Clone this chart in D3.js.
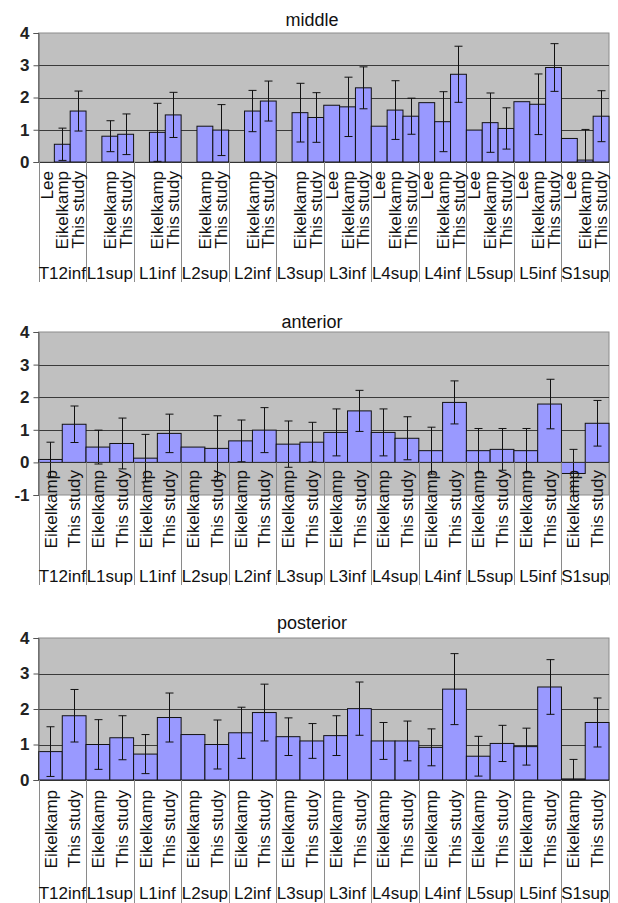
<!DOCTYPE html>
<html>
<head>
<meta charset="utf-8">
<script src="https://cdn.jsdelivr.net/npm/d3@7"></script>
<style>
  body { margin: 0; background: #fff; }
  svg { font-family: Arial, "Liberation Sans", sans-serif; }
</style>
</head>
<body>
<div id="chart"></div>
<script>
// vertebral levels (groups on the x axis)
var groups = ["T12inf","L1sup","L1inf","L2sup","L2inf","L3sup","L3inf","L4sup","L4inf","L5sup","L5inf","S1sup"];
var yTicks = [4, 3, 2, 1, 0];
var yTicksAnt = [4, 3, 2, 1, 0, -1];

// middle
var leeMid     = [null, null, null, null, null, null, 1.76, 1.11, 1.84, 0.99, 1.87, 0.73];
var eikMid     = [0.55, 0.80, 0.92, 1.11, 1.58, 1.53, 1.71, 1.61, 1.25, 1.22, 1.79, 0.06];
var eikMidErr  = [0.50, 0.48, 0.90, null, 0.64, 0.91, 0.92, 0.91, 0.93, 0.92, 0.94, 0.95];
var thisMid    = [1.58, 0.86, 1.46, 0.99, 1.89, 1.38, 2.30, 1.42, 2.72, 1.04, 2.93, 1.42];
var thisMidErr = [0.62, 0.63, 0.70, 0.79, 0.62, 0.77, 0.65, 0.56, 0.87, 0.64, 0.74, 0.79];
// "Lee" label is only printed on some groups
var leeLabelMid = [true, false, false, false, false, false, true, true, true, true, true, true];

// anterior
var eikAnt     = [0.09, 0.47, 0.13, 0.47, 0.66, 0.56, 0.92, 0.92, 0.36, 0.36, 0.36, -0.34];
var eikAntErr  = [0.53, 0.52, 0.73, null, 0.64, 0.71, 0.72, 0.72, 0.72, 0.68, 0.68, 0.74];
var thisAnt    = [1.17, 0.58, 0.89, 0.43, 0.99, 0.62, 1.58, 0.74, 1.84, 0.40, 1.79, 1.20];
var thisAntErr = [0.56, 0.78, 0.59, 1.00, 0.69, 0.61, 0.63, 0.66, 0.66, 0.64, 0.76, 0.70];

// posterior
var eikPost     = [0.80, 1.00, 0.73, 1.28, 1.33, 1.22, 1.25, 1.10, 0.92, 0.67, 0.94, 0.03];
var eikPostErr  = [0.70, 0.70, 0.55, null, 0.72, 0.53, 0.56, 0.52, 0.52, 0.56, 0.52, 0.55];
var thisPost    = [1.81, 1.19, 1.76, 1.00, 1.90, 1.10, 2.01, 1.10, 2.56, 1.03, 2.62, 1.62];
var thisPostErr = [0.74, 0.62, 0.69, 0.69, 0.80, 0.49, 0.75, 0.56, 1.00, 0.51, 0.77, 0.69];

var W = 618, H = 903;
var plotLeft = 38.5, plotRight = 609;

var svg = d3.select("#chart").append("svg")
    .attr("width", W)
    .attr("height", H);

// one panel: title, gray plot area, bars with error bars, two-level category labels
function drawPanel(opt) {
    var g = svg.append("g");

    var y = d3.scaleLinear().domain(opt.domain).range([opt.yBottom, opt.yTop]);
    var x0 = d3.scaleBand().domain(groups).range([plotLeft, plotRight]).padding(0);
    var subs = opt.series.map(function(s) { return s.name; });
    var x1 = d3.scaleBand().domain(subs).range([0, x0.bandwidth()]).padding(0);

    var y0 = y(0);

    // title
    g.append("text")
        .attr("x", 312)
        .attr("y", opt.titleY)
        .attr("text-anchor", "middle")
        .style("font-size", "18px")
        .attr("fill", "#111")
        .text(opt.title);

    // plot area
    g.append("rect")
        .attr("x", plotLeft)
        .attr("y", opt.yTop)
        .attr("width", plotRight - plotLeft)
        .attr("height", opt.yBottom - opt.yTop)
        .attr("fill", "#c0c0c0")
        .attr("stroke", "#8c8c8c")
        .attr("stroke-width", 1);

    // gridlines
    g.selectAll(".grid")
        .data(opt.ticks.filter(function(t) { return t !== opt.domain[0] && t !== opt.domain[1]; }))
      .enter().append("line")
        .attr("x1", plotLeft)
        .attr("x2", plotRight)
        .attr("y1", function(d) { return Math.round(y(d)) + 0.5; })
        .attr("y2", function(d) { return Math.round(y(d)) + 0.5; })
        .attr("stroke", "#3a3a3a")
        .attr("stroke-width", 1.2);

    // clip for error bars
    var clipId = "clip-" + opt.title;
    svg.append("clipPath").attr("id", clipId)
      .append("rect")
        .attr("x", plotLeft)
        .attr("y", opt.yTop)
        .attr("width", plotRight - plotLeft)
        .attr("height", opt.yBottom - opt.yTop);

    // bars
    var flat = [];
    groups.forEach(function(gr, i) {
        opt.series.forEach(function(s) {
            flat.push({ group: gr, name: s.name, v: s.values[i], e: s.errors ? s.errors[i] : null,
                        label: s.labelShown ? s.labelShown[i] : true });
        });
    });

    g.selectAll(".bar")
        .data(flat.filter(function(d) { return d.v != null; }))
      .enter().append("rect")
        .attr("x", function(d) { return x0(d.group) + x1(d.name); })
        .attr("width", x1.bandwidth())
        .attr("y", function(d) { return Math.min(y(d.v), y0); })
        .attr("height", function(d) { return Math.abs(y(d.v) - y0); })
        .attr("fill", "#9999ff")
        .attr("stroke", "#111")
        .attr("stroke-width", 1);

    // error bars
    var eb = g.append("g").attr("clip-path", "url(#" + clipId + ")")
        .selectAll(".err")
        .data(flat.filter(function(d) { return d.v != null && d.e != null; }))
      .enter().append("g")
        .attr("transform", function(d) {
            return "translate(" + (Math.round(x0(d.group) + x1(d.name) + x1.bandwidth() / 2) + 0.5) + ",0)";
        });
    eb.append("line")
        .attr("y1", function(d) { return y(d.v + d.e); })
        .attr("y2", function(d) { return y(d.v - d.e); })
        .attr("stroke", "#111");
    eb.append("line")
        .attr("x1", -4).attr("x2", 4)
        .attr("y1", function(d) { return y(d.v + d.e); })
        .attr("y2", function(d) { return y(d.v + d.e); })
        .attr("stroke", "#111");
    eb.append("line")
        .attr("x1", -4).attr("x2", 4)
        .attr("y1", function(d) { return y(d.v - d.e); })
        .attr("y2", function(d) { return y(d.v - d.e); })
        .attr("stroke", "#111");

    // zero axis line
    g.append("line")
        .attr("x1", plotLeft).attr("x2", plotRight)
        .attr("y1", Math.round(y0) + 0.5).attr("y2", Math.round(y0) + 0.5)
        .attr("stroke", "#333")
        .attr("stroke-width", 1.2);

    // y axis
    var yAxis = d3.axisLeft(y).tickValues(opt.ticks).tickSize(5).tickPadding(4)
        .tickFormat(d3.format("d"));
    var ya = g.append("g")
        .attr("transform", "translate(" + plotLeft + ",0)")
        .call(yAxis);
    ya.select(".domain").attr("stroke", "#555");
    ya.selectAll(".tick line").attr("stroke", "#555");
    ya.selectAll(".tick text")
        .style("font-size", "17px")
        .style("font-weight", "bold")
        .attr("fill", "#222")
        .text(function(d) { return d < 0 ? "-" + Math.abs(d) : d; });

    // group separators in the label area
    g.selectAll(".sep")
        .data(d3.range(groups.length + 1))
      .enter().append("line")
        .attr("x1", function(i) { return Math.round(i < groups.length ? x0(groups[i]) : plotRight) + 0.5; })
        .attr("x2", function(i) { return Math.round(i < groups.length ? x0(groups[i]) : plotRight) + 0.5; })
        .attr("y1", y0)
        .attr("y2", opt.sepBottom)
        .attr("stroke", "#8a8a8a");

    // sub category labels (vertical)
    g.selectAll(".sub")
        .data(flat.filter(function(d) { return d.label; }))
      .enter().append("text")
        .attr("transform", function(d) {
            return "translate(" + (x0(d.group) + x1(d.name) + x1.bandwidth() / 2) + "," + opt.subTop + ") rotate(-90)";
        })
        .attr("dy", "0.36em")
        .attr("text-anchor", "end")
        .style("font-size", "17px")
        .attr("fill", "#111")
        .text(function(d) { return d.name; });

    // group labels
    g.selectAll(".grp")
        .data(groups)
      .enter().append("text")
        .attr("x", function(d) { return x0(d) + x0.bandwidth() / 2; })
        .attr("y", opt.groupY)
        .attr("text-anchor", "middle")
        .style("font-size", "17px")
        .attr("fill", "#111")
        .text(function(d) { return d; });
}

drawPanel({
    title: "middle", titleY: 26,
    domain: [0, 4], ticks: yTicks, yTop: 33, yBottom: 162,
    subTop: 171, groupY: 279, sepBottom: 282,
    series: [
        { name: "Lee", values: leeMid, errors: null, labelShown: leeLabelMid },
        { name: "Eikelkamp", values: eikMid, errors: eikMidErr },
        { name: "This study", values: thisMid, errors: thisMidErr }
    ]
});

drawPanel({
    title: "anterior", titleY: 328,
    domain: [-1, 4], ticks: yTicksAnt, yTop: 332, yBottom: 495,
    subTop: 470, groupY: 582, sepBottom: 585,
    series: [
        { name: "Eikelkamp", values: eikAnt, errors: eikAntErr },
        { name: "This study", values: thisAnt, errors: thisAntErr }
    ]
});

drawPanel({
    title: "posterior", titleY: 629,
    domain: [0, 4], ticks: yTicks, yTop: 638, yBottom: 780,
    subTop: 790, groupY: 899, sepBottom: 903,
    series: [
        { name: "Eikelkamp", values: eikPost, errors: eikPostErr },
        { name: "This study", values: thisPost, errors: thisPostErr }
    ]
});
</script>
</body>
</html>
